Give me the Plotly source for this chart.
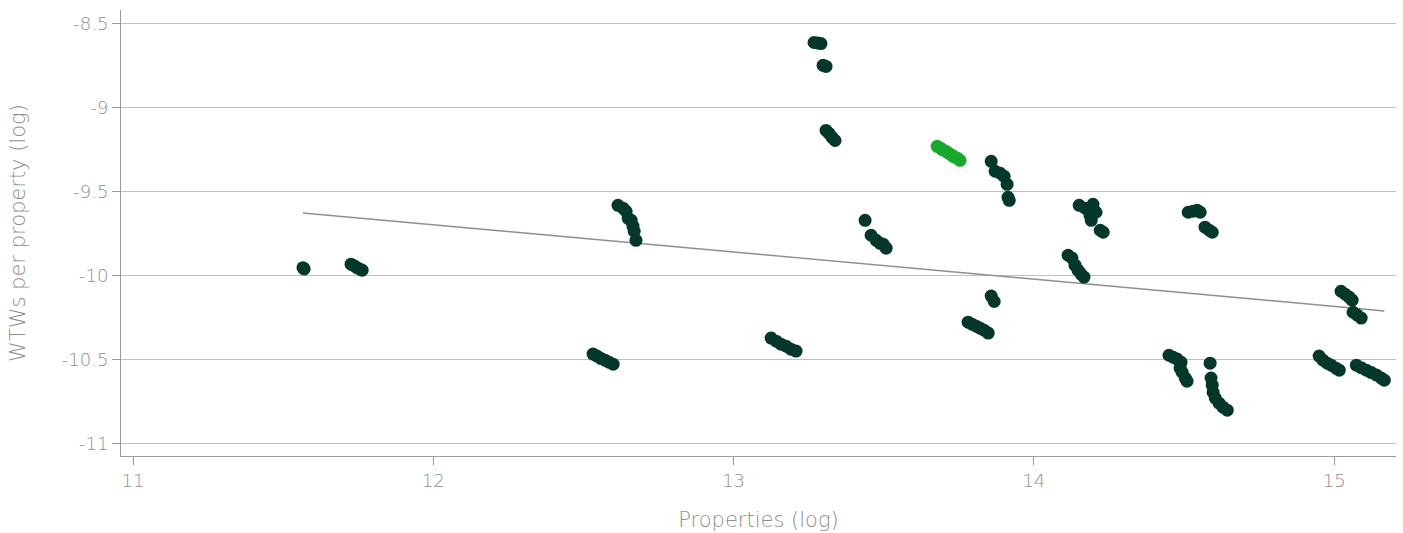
import plotly.graph_objects as go

# Log properties vs log WTWs per property, one streak per company (years)
props_log = [
    11.566, 11.570,
    11.726, 11.736, 11.746, 11.756, 11.763,
    12.615, 12.632, 12.642, 12.649, 12.659, 12.665, 12.669, 12.675,
    12.532, 12.545, 12.559, 12.572, 12.585, 12.599,
    13.125, 13.142, 13.158, 13.175, 13.191, 13.208,
    13.268, 13.281, 13.291, 13.298, 13.308,
    13.308, 13.318, 13.328, 13.338,
    13.438, 13.458, 13.475, 13.488, 13.498, 13.508,
    13.858, 13.871, 13.888, 13.901, 13.911, 13.914, 13.918,
    14.151, 14.171, 14.187, 14.197, 14.207, 14.191, 14.221, 14.231,
    14.114, 14.127, 14.137, 14.147, 14.157, 14.167,
    13.858, 13.868,
    13.781, 13.794, 13.808, 13.821, 13.834, 13.848,
    14.514, 14.530, 14.544, 14.554, 14.570, 14.584, 14.594,
    15.023, 15.037, 15.050, 15.060, 15.063, 15.077, 15.090,
    14.450, 14.464, 14.477, 14.490, 14.487, 14.494, 14.504, 14.510,
    14.587, 14.590, 14.594, 14.597, 14.604, 14.617, 14.630, 14.644,
    14.950, 14.963, 14.977, 14.990, 15.006, 15.017,
    15.074, 15.090, 15.107, 15.124, 15.141, 15.157, 15.167,
]
wtw_log = [
    -9.955, -9.962,
    -9.934, -9.943, -9.955, -9.964, -9.970,
    -9.584, -9.601, -9.619, -9.661, -9.673, -9.708, -9.738, -9.792,
    -10.469, -10.481, -10.496, -10.505, -10.517, -10.529,
    -10.374, -10.392, -10.410, -10.422, -10.440, -10.451,
    -8.615, -8.618, -8.621, -8.751, -8.757,
    -9.138, -9.156, -9.180, -9.198,
    -9.673, -9.762, -9.792, -9.810, -9.815, -9.839,
    -9.322, -9.381, -9.393, -9.411, -9.459, -9.536, -9.554,
    -9.584, -9.601, -9.643, -9.578, -9.625, -9.673, -9.732, -9.744,
    -9.881, -9.898, -9.940, -9.970, -9.993, -10.011,
    -10.124, -10.156,
    -10.279, -10.291, -10.303, -10.315, -10.327, -10.344,
    -9.625, -9.619, -9.613, -9.625, -9.714, -9.732, -9.744,
    -10.095, -10.113, -10.130, -10.148, -10.220, -10.237, -10.255,
    -10.476, -10.488, -10.499, -10.517, -10.553, -10.577, -10.612, -10.630,
    -10.523, -10.612, -10.654, -10.696, -10.731, -10.761, -10.785, -10.803,
    -10.481, -10.505, -10.523, -10.535, -10.553, -10.565,
    -10.535, -10.550, -10.565, -10.579, -10.594, -10.612, -10.624,
]

# Highlighted company
hl_props_log = [13.678, 13.689, 13.697, 13.708, 13.716, 13.727, 13.735, 13.746, 13.754]
hl_wtw_log = [-9.233, -9.244, -9.254, -9.263, -9.274, -9.286, -9.295, -9.305, -9.316]

# Fitted trend (log-log)
trend_slope = -0.162
trend_intercept = -7.7555

x_ticks = [11, 12, 13, 14, 15]
y_ticks = [-11, -10.5, -10, -9.5, -9, -8.5]
y_tick_text = ["-11", "-10.5", "-10", "-9.5", "-9", "-8.5"]

DARK = "#05372b"
BRIGHT = "#17a92b"
GREY_TEXT = "#8e8e8e"

all_x = props_log + hl_props_log
x0, x1 = min(all_x), max(all_x)

fig = go.Figure()
fig.add_trace(go.Scatter(
    x=[x0, x1],
    y=[trend_intercept + trend_slope * x0, trend_intercept + trend_slope * x1],
    mode="lines", line=dict(color="#8f8f8f", width=1.5),
    hoverinfo="skip", showlegend=False,
))
fig.add_trace(go.Scatter(
    x=props_log, y=wtw_log, mode="markers",
    marker=dict(color=DARK, size=13, line=dict(width=0)),
    showlegend=False,
))
fig.add_trace(go.Scatter(
    x=hl_props_log, y=hl_wtw_log, mode="markers",
    marker=dict(color=BRIGHT, size=13, line=dict(width=0)),
    showlegend=False,
))

font_family = "DejaVu Sans, sans-serif"
fig.update_layout(
    width=1403, height=533,
    margin=dict(l=121, r=7, t=10, b=77),
    paper_bgcolor="white", plot_bgcolor="white",
    font=dict(family=font_family, color=GREY_TEXT, size=18, weight=300),
    xaxis=dict(
        range=[10.96, 15.206], tickvals=x_ticks, showgrid=False, zeroline=False,
        showline=True, linecolor="#9a9a9a", linewidth=1,
        ticks="outside", ticklen=8, tickcolor="#9a9a9a",
        tickfont=dict(size=18, color=GREY_TEXT, weight=300),
        title=dict(text="Properties (log)", font=dict(size=21, color=GREY_TEXT, weight=300), standoff=22),
    ),
    yaxis=dict(
        range=[-11.0755, -8.4215], tickvals=y_ticks, ticktext=y_tick_text,
        showgrid=True, gridcolor="#c0c0c0", gridwidth=1.2, zeroline=False,
        showline=True, linecolor="#9a9a9a", linewidth=1,
        ticks="outside", ticklen=8, tickcolor="#9a9a9a",
        tickfont=dict(size=18, color=GREY_TEXT, weight=300),
        title=dict(text="WTWs per property (log)", font=dict(size=21, color=GREY_TEXT, weight=300), standoff=30),
    ),
)

fig.write_html("out.html")
